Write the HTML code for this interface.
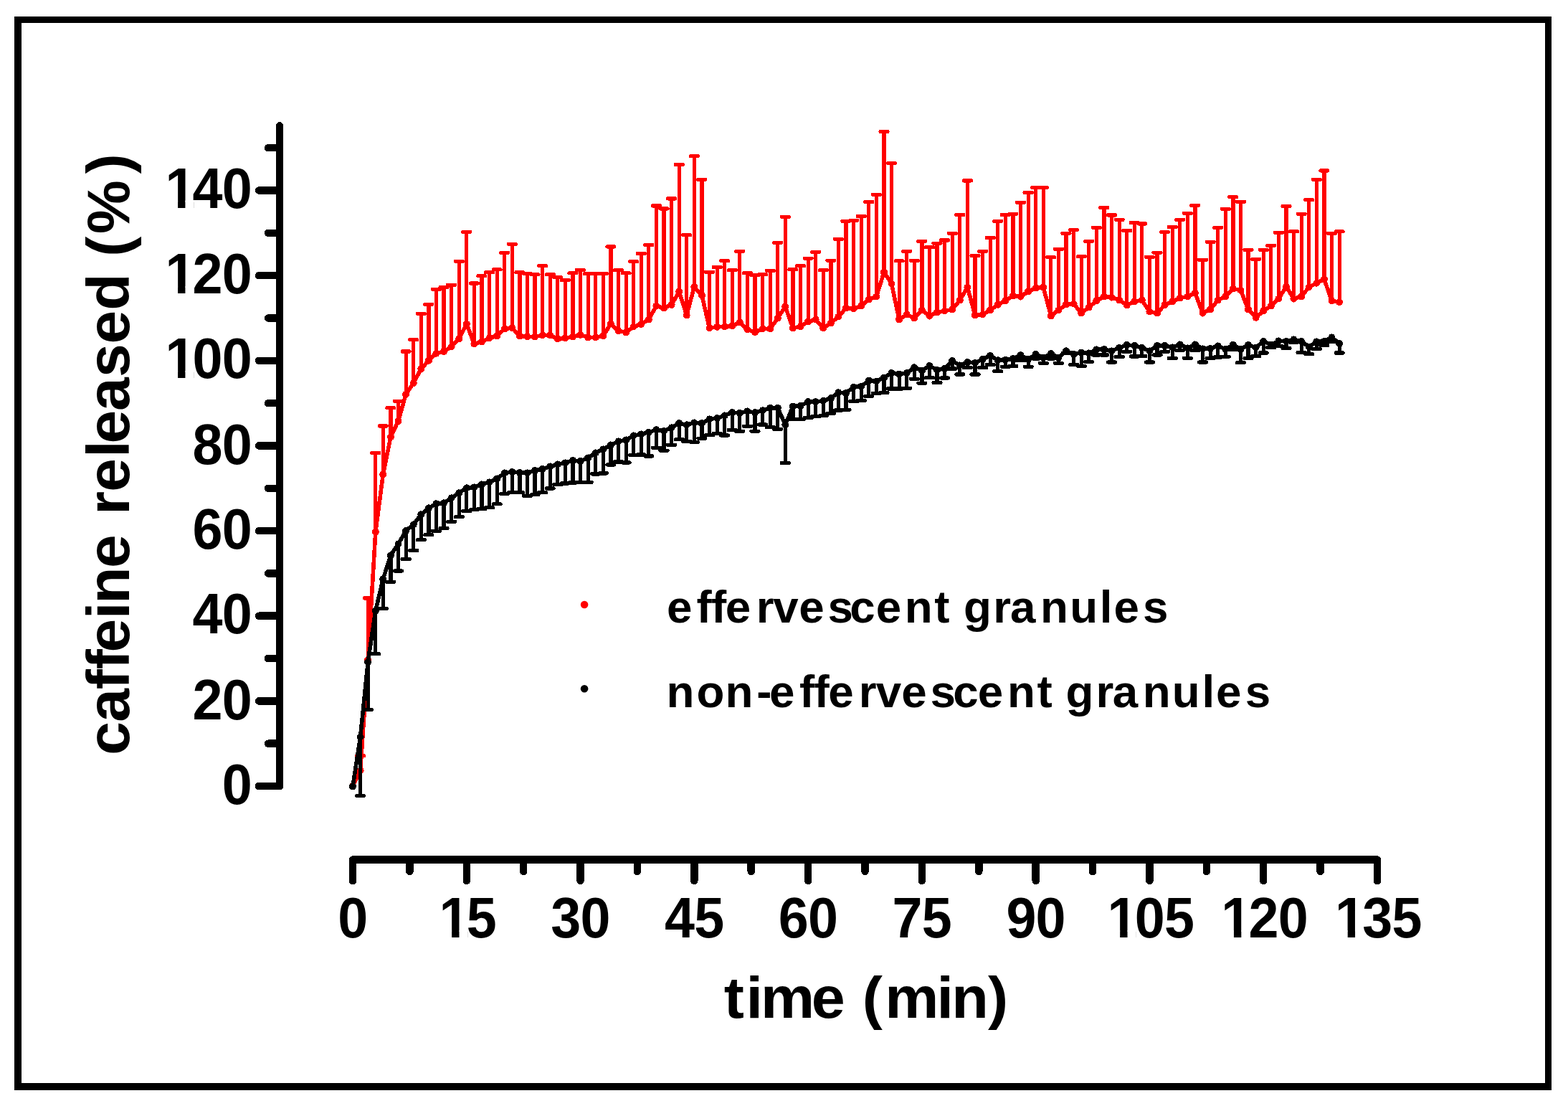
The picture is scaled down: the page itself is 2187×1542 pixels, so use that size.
<!DOCTYPE html>
<html lang="en">
<head>
<meta charset="utf-8">
<title>Caffeine release from effervescent and non-effervescent granules</title>
<style>
html,body{margin:0;padding:0;background:#fff;}
body{width:2187px;height:1542px;overflow:hidden;}
svg{display:block;}
</style>
</head>
<body>
<svg width="2187" height="1542" viewBox="0 0 2187 1542">
<rect width="2187" height="1542" fill="#fff"/>
<path d="M20 23H2164V1520H20ZM30 32V1510H2155V32Z" fill="#000" fill-rule="evenodd" shape-rendering="crispEdges"/>
<path d="M390 175.4V1096M390 1096.0h-29M390 1036.7h-16M390 977.4h-29M390 918.0h-16M390 858.7h-29M390 799.4h-16M390 740.1h-29M390 680.8h-16M390 621.4h-29M390 562.1h-16M390 502.8h-29M390 443.5h-16M390 384.2h-29M390 324.8h-16M390 265.5h-29M390 206.2h-16M492.0 1198.5H1921.0M492.0 1198.5v29.5M571.4 1198.5v16.5M650.8 1198.5v29.5M730.2 1198.5v16.5M809.5 1198.5v29.5M888.9 1198.5v16.5M968.3 1198.5v29.5M1047.7 1198.5v16.5M1127.1 1198.5v29.5M1206.5 1198.5v16.5M1285.9 1198.5v29.5M1365.3 1198.5v16.5M1444.7 1198.5v29.5M1524.0 1198.5v16.5M1603.4 1198.5v29.5M1682.8 1198.5v16.5M1762.2 1198.5v29.5M1841.6 1198.5v16.5M1921.0 1198.5v29.5" fill="none" stroke="#000" stroke-width="10.5" stroke-linecap="round" stroke-linejoin="round" shape-rendering="crispEdges"/>
<g shape-rendering="crispEdges">
<path d="M502.6 1074.4V1053.7M497.6 1053.7h10M513.2 920.0V834.0M508.2 834.0h10M523.8 741.7V631.5M518.8 631.5h10M534.3 661.5V594.0M529.3 594.0h10M544.9 609.2V568.8M539.9 568.8h10M555.5 587.0V559.2M550.5 559.2h10M566.1 549.7V490.0M561.1 490.0h10M576.7 534.2V473.7M571.7 473.7h10M587.3 514.3V437.3M582.3 437.3h10M597.9 502.7V424.3M592.9 424.3h10M608.4 492.7V403.4M603.4 403.4h10M619.0 490.0V400.5M614.0 400.5h10M629.6 483.4V397.2M624.6 397.2h10M640.2 472.5V364.2M635.2 364.2h10M650.8 451.7V323.3M645.8 323.3h10M661.4 479.5V395.0M656.4 395.0h10M671.9 476.4V384.8M666.9 384.8h10M682.5 471.4V379.8M677.5 379.8h10M693.1 468.4V375.8M688.1 375.8h10M703.7 458.5V352.3M698.7 352.3h10M714.3 457.1V340.3M709.3 340.3h10M724.9 468.4V379.8M719.9 379.8h10M735.5 469.4V381.4M730.5 381.4h10M746.0 469.4V382.8M741.0 382.8h10M756.6 467.4V370.8M751.6 370.8h10M767.2 467.4V382.8M762.2 382.8h10M777.8 472.4V386.8M772.8 386.8h10M788.4 471.4V390.8M783.4 390.8h10M799.0 469.4V380.8M794.0 380.8h10M809.5 466.8V376.4M804.5 376.4h10M820.1 470.4V381.8M815.1 381.8h10M830.7 470.4V381.8M825.7 381.8h10M841.3 468.4V381.4M836.3 381.4h10M851.9 451.5V343.9M846.9 343.9h10M862.5 461.4V376.8M857.5 376.8h10M873.1 463.4V380.8M868.1 380.8h10M883.6 455.5V364.8M878.6 364.8h10M894.2 452.1V353.5M889.2 353.5h10M904.8 445.5V341.5M899.8 341.5h10M915.4 426.5V286.9M910.4 286.9h10M926.0 429.5V290.9M921.0 290.9h10M936.6 424.9V276.9M931.6 276.9h10M947.2 406.5V229.4M942.2 229.4h10M957.7 439.5V327.6M952.7 327.6h10M968.3 400.0V217.6M963.3 217.6h10M978.9 411.7V250.3M973.9 250.3h10M989.5 457.4V379.2M984.5 379.2h10M1000.1 455.8V372.4M995.1 372.4h10M1010.7 455.4V363.8M1005.7 363.8h10M1021.2 454.4V376.8M1016.2 376.8h10M1031.8 449.4V350.4M1026.8 350.4h10M1042.4 459.4V380.8M1037.4 380.8h10M1053.0 463.0V383.8M1048.0 383.8h10M1063.6 458.4V382.8M1058.6 382.8h10M1074.2 458.4V377.2M1069.2 377.2h10M1084.8 443.5V338.4M1079.8 338.4h10M1095.3 427.5V302.3M1090.3 302.3h10M1105.9 457.4V375.8M1100.9 375.8h10M1116.5 455.4V370.8M1111.5 370.8h10M1127.1 448.4V360.2M1122.1 360.2h10M1137.7 445.5V351.4M1132.7 351.4h10M1148.3 457.4V376.8M1143.3 376.8h10M1158.9 450.4V363.2M1153.9 363.2h10M1169.4 441.5V333.5M1164.4 333.5h10M1180.0 429.5V308.3M1175.0 308.3h10M1190.6 430.5V307.3M1185.6 307.3h10M1201.2 426.5V301.5M1196.2 301.5h10M1211.8 417.5V281.5M1206.8 281.5h10M1222.4 413.5V271.5M1217.4 271.5h10M1233.0 379.5V183.4M1228.0 183.4h10M1243.5 395.5V227.6M1238.5 227.6h10M1254.1 445.5V363.8M1249.1 363.8h10M1264.7 438.5V350.4M1259.7 350.4h10M1275.3 443.5V363.2M1270.3 363.2h10M1285.9 432.5V336.3M1280.9 336.3h10M1296.5 440.5V344.8M1291.5 344.8h10M1307.0 435.5V339.2M1302.0 339.2h10M1317.6 433.5V334.9M1312.6 334.9h10M1328.2 431.5V325.3M1323.2 325.3h10M1338.8 418.5V299.5M1333.8 299.5h10M1349.4 400.5V251.9M1344.4 251.9h10M1360.0 439.5V356.4M1355.0 356.4h10M1370.6 438.5V350.4M1365.6 350.4h10M1381.1 432.5V331.4M1376.1 331.4h10M1391.7 424.7V308.2M1386.7 308.2h10M1402.3 419.5V299.5M1397.3 299.5h10M1412.9 412.5V298.3M1407.9 298.3h10M1423.5 413.5V282.3M1418.5 282.3h10M1434.1 406.5V268.5M1429.1 268.5h10M1444.7 401.5V261.5M1439.7 261.5h10M1455.2 400.5V261.5M1450.2 261.5h10M1465.8 440.5V358.8M1460.8 358.8h10M1476.4 432.5V347.2M1471.4 347.2h10M1487.0 424.5V325.3M1482.0 325.3h10M1497.6 423.5V320.5M1492.6 320.5h10M1508.2 436.5V357.8M1503.2 357.8h10M1518.7 428.5V336.3M1513.7 336.3h10M1529.3 419.5V317.3M1524.3 317.3h10M1539.9 413.5V289.5M1534.9 289.5h10M1550.5 414.5V299.9M1545.5 299.9h10M1561.1 418.5V306.3M1556.1 306.3h10M1571.7 425.5V321.5M1566.7 321.5h10M1582.3 420.5V310.5M1577.3 310.5h10M1592.8 418.5V311.9M1587.8 311.9h10M1603.4 434.5V358.4M1598.4 358.4h10M1614.0 436.5V352.2M1609.0 352.2h10M1624.6 425.1V323.5M1619.6 323.5h10M1635.2 420.5V316.5M1630.2 316.5h10M1645.8 415.5V306.3M1640.8 306.3h10M1656.4 413.5V297.3M1651.4 297.3h10M1666.9 408.5V286.3M1661.9 286.3h10M1677.5 436.5V362.2M1672.5 362.2h10M1688.1 431.5V337.3M1683.1 337.3h10M1698.7 418.5V317.3M1693.7 317.3h10M1709.3 413.5V291.4M1704.3 291.4h10M1719.9 402.5V274.7M1714.9 274.7h10M1730.4 404.5V281.2M1725.4 281.2h10M1741.0 431.5V348.3M1736.0 348.3h10M1751.6 442.7V361.4M1746.6 361.4h10M1762.2 433.5V348.3M1757.2 348.3h10M1772.8 426.5V342.2M1767.8 342.2h10M1783.4 416.5V324.2M1778.4 324.2h10M1794.0 399.7V287.6M1789.0 287.6h10M1804.5 416.5V322.8M1799.5 322.8h10M1815.1 413.5V298.3M1810.1 298.3h10M1825.7 400.3V278.7M1820.7 278.7h10M1836.3 394.7V250.3M1831.3 250.3h10M1846.9 389.2V237.9M1841.9 237.9h10M1857.5 419.4V325.2M1852.5 325.2h10M1868.1 421.2V322.8M1863.1 322.8h10" fill="none" stroke="#ff0000" stroke-width="5.2" stroke-linecap="round"/>
<polyline points="492.0,1096.0 502.6,1074.4 513.2,920.0 523.8,741.7 534.3,661.5 544.9,609.2 555.5,587.0 566.1,549.7 576.7,534.2 587.3,514.3 597.9,502.7 608.4,492.7 619.0,490.0 629.6,483.4 640.2,472.5 650.8,451.7 661.4,479.5 671.9,476.4 682.5,471.4 693.1,468.4 703.7,458.5 714.3,457.1 724.9,468.4 735.5,469.4 746.0,469.4 756.6,467.4 767.2,467.4 777.8,472.4 788.4,471.4 799.0,469.4 809.5,466.8 820.1,470.4 830.7,470.4 841.3,468.4 851.9,451.5 862.5,461.4 873.1,463.4 883.6,455.5 894.2,452.1 904.8,445.5 915.4,426.5 926.0,429.5 936.6,424.9 947.2,406.5 957.7,439.5 968.3,400.0 978.9,411.7 989.5,457.4 1000.1,455.8 1010.7,455.4 1021.2,454.4 1031.8,449.4 1042.4,459.4 1053.0,463.0 1063.6,458.4 1074.2,458.4 1084.8,443.5 1095.3,427.5 1105.9,457.4 1116.5,455.4 1127.1,448.4 1137.7,445.5 1148.3,457.4 1158.9,450.4 1169.4,441.5 1180.0,429.5 1190.6,430.5 1201.2,426.5 1211.8,417.5 1222.4,413.5 1233.0,379.5 1243.5,395.5 1254.1,445.5 1264.7,438.5 1275.3,443.5 1285.9,432.5 1296.5,440.5 1307.0,435.5 1317.6,433.5 1328.2,431.5 1338.8,418.5 1349.4,400.5 1360.0,439.5 1370.6,438.5 1381.1,432.5 1391.7,424.7 1402.3,419.5 1412.9,412.5 1423.5,413.5 1434.1,406.5 1444.7,401.5 1455.2,400.5 1465.8,440.5 1476.4,432.5 1487.0,424.5 1497.6,423.5 1508.2,436.5 1518.7,428.5 1529.3,419.5 1539.9,413.5 1550.5,414.5 1561.1,418.5 1571.7,425.5 1582.3,420.5 1592.8,418.5 1603.4,434.5 1614.0,436.5 1624.6,425.1 1635.2,420.5 1645.8,415.5 1656.4,413.5 1666.9,408.5 1677.5,436.5 1688.1,431.5 1698.7,418.5 1709.3,413.5 1719.9,402.5 1730.4,404.5 1741.0,431.5 1751.6,442.7 1762.2,433.5 1772.8,426.5 1783.4,416.5 1794.0,399.7 1804.5,416.5 1815.1,413.5 1825.7,400.3 1836.3,394.7 1846.9,389.2 1857.5,419.4 1868.1,421.2" fill="none" stroke="#ff0000" stroke-width="5.6" stroke-linejoin="round" stroke-linecap="round"/>
<path d="M492.0 1096.0h0M502.6 1074.4h0M513.2 920.0h0M523.8 741.7h0M534.3 661.5h0M544.9 609.2h0M555.5 587.0h0M566.1 549.7h0M576.7 534.2h0M587.3 514.3h0M597.9 502.7h0M608.4 492.7h0M619.0 490.0h0M629.6 483.4h0M640.2 472.5h0M650.8 451.7h0M661.4 479.5h0M671.9 476.4h0M682.5 471.4h0M693.1 468.4h0M703.7 458.5h0M714.3 457.1h0M724.9 468.4h0M735.5 469.4h0M746.0 469.4h0M756.6 467.4h0M767.2 467.4h0M777.8 472.4h0M788.4 471.4h0M799.0 469.4h0M809.5 466.8h0M820.1 470.4h0M830.7 470.4h0M841.3 468.4h0M851.9 451.5h0M862.5 461.4h0M873.1 463.4h0M883.6 455.5h0M894.2 452.1h0M904.8 445.5h0M915.4 426.5h0M926.0 429.5h0M936.6 424.9h0M947.2 406.5h0M957.7 439.5h0M968.3 400.0h0M978.9 411.7h0M989.5 457.4h0M1000.1 455.8h0M1010.7 455.4h0M1021.2 454.4h0M1031.8 449.4h0M1042.4 459.4h0M1053.0 463.0h0M1063.6 458.4h0M1074.2 458.4h0M1084.8 443.5h0M1095.3 427.5h0M1105.9 457.4h0M1116.5 455.4h0M1127.1 448.4h0M1137.7 445.5h0M1148.3 457.4h0M1158.9 450.4h0M1169.4 441.5h0M1180.0 429.5h0M1190.6 430.5h0M1201.2 426.5h0M1211.8 417.5h0M1222.4 413.5h0M1233.0 379.5h0M1243.5 395.5h0M1254.1 445.5h0M1264.7 438.5h0M1275.3 443.5h0M1285.9 432.5h0M1296.5 440.5h0M1307.0 435.5h0M1317.6 433.5h0M1328.2 431.5h0M1338.8 418.5h0M1349.4 400.5h0M1360.0 439.5h0M1370.6 438.5h0M1381.1 432.5h0M1391.7 424.7h0M1402.3 419.5h0M1412.9 412.5h0M1423.5 413.5h0M1434.1 406.5h0M1444.7 401.5h0M1455.2 400.5h0M1465.8 440.5h0M1476.4 432.5h0M1487.0 424.5h0M1497.6 423.5h0M1508.2 436.5h0M1518.7 428.5h0M1529.3 419.5h0M1539.9 413.5h0M1550.5 414.5h0M1561.1 418.5h0M1571.7 425.5h0M1582.3 420.5h0M1592.8 418.5h0M1603.4 434.5h0M1614.0 436.5h0M1624.6 425.1h0M1635.2 420.5h0M1645.8 415.5h0M1656.4 413.5h0M1666.9 408.5h0M1677.5 436.5h0M1688.1 431.5h0M1698.7 418.5h0M1709.3 413.5h0M1719.9 402.5h0M1730.4 404.5h0M1741.0 431.5h0M1751.6 442.7h0M1762.2 433.5h0M1772.8 426.5h0M1783.4 416.5h0M1794.0 399.7h0M1804.5 416.5h0M1815.1 413.5h0M1825.7 400.3h0M1836.3 394.7h0M1846.9 389.2h0M1857.5 419.4h0M1868.1 421.2h0" fill="none" stroke="#ff0000" stroke-width="10.0" stroke-linecap="round"/>
<path d="M502.6 1027.5V1109.5M497.6 1109.5h10M513.2 923.0V989.5M508.2 989.5h10M523.8 851.5V911.7M518.8 911.7h10M534.3 807.5V848.6M529.3 848.6h10M544.9 774.3V811.3M539.9 811.3h10M555.5 758.4V796.0M550.5 796.0h10M566.1 740.1V779.5M561.1 779.5h10M576.7 731.4V767.5M571.7 767.5h10M587.3 717.3V752.8M582.3 752.8h10M597.9 708.3V745.8M592.9 745.8h10M608.4 702.3V740.4M603.4 740.4h10M619.0 701.3V736.4M614.0 736.4h10M629.6 694.3V727.4M624.6 727.4h10M640.2 687.3V720.8M635.2 720.8h10M650.8 680.3V712.8M645.8 712.8h10M661.4 679.4V710.8M656.4 710.8h10M671.9 675.4V709.8M666.9 709.8h10M682.5 672.4V707.8M677.5 707.8h10M693.1 667.4V702.8M688.1 702.8h10M703.7 659.4V688.4M698.7 688.4h10M714.3 658.0V686.8M709.3 686.8h10M724.9 659.0V686.8M719.9 686.8h10M735.5 659.4V691.4M730.5 691.4h10M746.0 656.0V689.8M741.0 689.8h10M756.6 654.0V686.8M751.6 686.8h10M767.2 650.4V680.9M762.2 680.9h10M777.8 647.4V675.5M772.8 675.5h10M788.4 645.4V673.9M783.4 673.9h10M799.0 642.0V672.9M794.0 672.9h10M809.5 642.8V672.3M804.5 672.3h10M820.1 638.4V672.3M815.1 672.3h10M830.7 631.4V660.9M825.7 660.9h10M841.3 626.4V659.9M836.3 659.9h10M851.9 620.4V647.9M846.9 647.9h10M862.5 615.4V643.9M857.5 643.9h10M873.1 613.4V644.9M868.1 644.9h10M883.6 607.4V634.3M878.6 634.3h10M894.2 605.4V633.9M889.2 633.9h10M904.8 602.7V636.0M899.8 636.0h10M915.4 599.2V624.2M910.4 624.2h10M926.0 600.8V628.1M921.0 628.1h10M936.6 596.3V620.1M931.6 620.1h10M947.2 590.1V612.7M942.2 612.7h10M957.7 592.3V615.2M952.7 615.2h10M968.3 589.4V616.2M963.3 616.2h10M978.9 590.1V611.2M973.9 611.2h10M989.5 584.4V606.7M984.5 606.7h10M1000.1 583.0V604.1M995.1 604.1h10M1010.7 579.4V607.0M1005.7 607.0h10M1021.2 575.1V599.5M1016.2 599.5h10M1031.8 575.9V601.2M1026.8 601.2h10M1042.4 573.4V594.1M1037.4 594.1h10M1053.0 575.1V601.2M1048.0 601.2h10M1063.6 572.3V592.0M1058.6 592.0h10M1074.2 568.7V595.5M1069.2 595.5h10M1084.8 568.7V598.4M1079.8 598.4h10M1095.3 592.3V645.5M1090.3 645.5h10M1105.9 566.6V584.8M1100.9 584.8h10M1116.5 565.9V584.1M1111.5 584.1h10M1127.1 560.2V582.4M1122.1 582.4h10M1137.7 560.2V580.6M1132.7 580.6h10M1148.3 558.7V579.8M1143.3 579.8h10M1158.9 555.2V576.3M1153.9 576.3h10M1169.4 547.3V572.0M1164.4 572.0h10M1180.0 548.0V571.3M1175.0 571.3h10M1190.6 539.5V559.6M1185.6 559.6h10M1201.2 538.8V558.4M1196.2 558.4h10M1211.8 530.5V552.4M1206.8 552.4h10M1222.4 531.5V548.4M1217.4 548.4h10M1233.0 526.5V547.7M1228.0 547.7h10M1243.5 520.1V541.9M1238.5 541.9h10M1254.1 521.5V541.9M1249.1 541.9h10M1264.7 520.1V541.2M1259.7 541.2h10M1275.3 512.3V528.4M1270.3 528.4h10M1285.9 516.6V534.1M1280.9 534.1h10M1296.5 510.1V526.7M1291.5 526.7h10M1307.0 515.8V533.4M1302.0 533.4h10M1317.6 513.7V527.0M1312.6 527.0h10M1328.2 503.0V514.1M1323.2 514.1h10M1338.8 509.4V522.0M1333.8 522.0h10M1349.4 505.1V512.7M1344.4 512.7h10M1360.0 505.9V522.0M1355.0 522.0h10M1370.6 500.9V512.7M1365.6 512.7h10M1381.1 495.9V508.4M1376.1 508.4h10M1391.7 502.3V517.7M1386.7 517.7h10M1402.3 501.6V511.3M1397.3 511.3h10M1412.9 500.1V510.6M1407.9 510.6h10M1423.5 495.2V502.7M1418.5 502.7h10M1434.1 500.9V511.3M1429.1 511.3h10M1444.7 493.7V499.9M1439.7 499.9h10M1455.2 498.7V506.3M1450.2 506.3h10M1465.8 493.0V499.9M1460.8 499.9h10M1476.4 498.7V506.3M1471.4 506.3h10M1487.0 489.4V492.7M1482.0 492.7h10M1497.6 493.7V508.4M1492.6 508.4h10M1508.2 491.5V510.3M1503.2 510.3h10M1518.7 492.4V504.5M1513.7 504.5h10M1529.3 487.4V494.9M1524.3 494.9h10M1539.9 486.9V494.9M1534.9 494.9h10M1550.5 489.4V505.0M1545.5 505.0h10M1561.1 484.9V497.5M1556.1 497.5h10M1571.7 480.9V490.4M1566.7 490.4h10M1582.3 481.9V497.0M1577.3 497.0h10M1592.8 484.9V496.5M1587.8 496.5h10M1603.4 489.4V505.0M1598.4 505.0h10M1614.0 481.9V494.9M1609.0 494.9h10M1624.6 481.9V490.4M1619.6 490.4h10M1635.2 484.4V499.5M1630.2 499.5h10M1645.8 480.4V488.4M1640.8 488.4h10M1656.4 485.4V499.5M1651.4 499.5h10M1666.9 480.4V488.4M1661.9 488.4h10M1677.5 486.4V505.0M1672.5 505.0h10M1688.1 485.9V499.5M1683.1 499.5h10M1698.7 482.4V498.0M1693.7 498.0h10M1709.3 486.7V497.1M1704.3 497.1h10M1719.9 480.7V487.5M1714.9 487.5h10M1730.4 487.0V505.6M1725.4 505.6h10M1741.0 481.0V499.6M1736.0 499.6h10M1751.6 484.5V496.6M1746.6 496.6h10M1762.2 475.9V492.0M1757.2 492.0h10M1772.8 480.5V484.5M1767.8 484.5h10M1783.4 475.4V482.5M1778.4 482.5h10M1794.0 475.9V485.5M1789.0 485.5h10M1804.5 473.4V477.5M1799.5 477.5h10M1815.1 475.9V491.5M1810.1 491.5h10M1825.7 483.5V493.6M1820.7 493.6h10M1836.3 476.4V486.5M1831.3 486.5h10M1846.9 475.9V481.5M1841.9 481.5h10M1857.5 470.4V476.5M1852.5 476.5h10M1868.1 479.0V492.0M1863.1 492.0h10" fill="none" stroke="#000000" stroke-width="5.2" stroke-linecap="round"/>
<polyline points="492.0,1096.4 502.6,1027.5 513.2,923.0 523.8,851.5 534.3,807.5 544.9,774.3 555.5,758.4 566.1,740.1 576.7,731.4 587.3,717.3 597.9,708.3 608.4,702.3 619.0,701.3 629.6,694.3 640.2,687.3 650.8,680.3 661.4,679.4 671.9,675.4 682.5,672.4 693.1,667.4 703.7,659.4 714.3,658.0 724.9,659.0 735.5,659.4 746.0,656.0 756.6,654.0 767.2,650.4 777.8,647.4 788.4,645.4 799.0,642.0 809.5,642.8 820.1,638.4 830.7,631.4 841.3,626.4 851.9,620.4 862.5,615.4 873.1,613.4 883.6,607.4 894.2,605.4 904.8,602.7 915.4,599.2 926.0,600.8 936.6,596.3 947.2,590.1 957.7,592.3 968.3,589.4 978.9,590.1 989.5,584.4 1000.1,583.0 1010.7,579.4 1021.2,575.1 1031.8,575.9 1042.4,573.4 1053.0,575.1 1063.6,572.3 1074.2,568.7 1084.8,568.7 1095.3,592.3 1105.9,566.6 1116.5,565.9 1127.1,560.2 1137.7,560.2 1148.3,558.7 1158.9,555.2 1169.4,547.3 1180.0,548.0 1190.6,539.5 1201.2,538.8 1211.8,530.5 1222.4,531.5 1233.0,526.5 1243.5,520.1 1254.1,521.5 1264.7,520.1 1275.3,512.3 1285.9,516.6 1296.5,510.1 1307.0,515.8 1317.6,513.7 1328.2,503.0 1338.8,509.4 1349.4,505.1 1360.0,505.9 1370.6,500.9 1381.1,495.9 1391.7,502.3 1402.3,501.6 1412.9,500.1 1423.5,495.2 1434.1,500.9 1444.7,493.7 1455.2,498.7 1465.8,493.0 1476.4,498.7 1487.0,489.4 1497.6,493.7 1508.2,491.5 1518.7,492.4 1529.3,487.4 1539.9,486.9 1550.5,489.4 1561.1,484.9 1571.7,480.9 1582.3,481.9 1592.8,484.9 1603.4,489.4 1614.0,481.9 1624.6,481.9 1635.2,484.4 1645.8,480.4 1656.4,485.4 1666.9,480.4 1677.5,486.4 1688.1,485.9 1698.7,482.4 1709.3,486.7 1719.9,480.7 1730.4,487.0 1741.0,481.0 1751.6,484.5 1762.2,475.9 1772.8,480.5 1783.4,475.4 1794.0,475.9 1804.5,473.4 1815.1,475.9 1825.7,483.5 1836.3,476.4 1846.9,475.9 1857.5,470.4 1868.1,479.0" fill="none" stroke="#000000" stroke-width="5.6" stroke-linejoin="round" stroke-linecap="round"/>
<path d="M492.0 1096.4h0M502.6 1027.5h0M513.2 923.0h0M523.8 851.5h0M534.3 807.5h0M544.9 774.3h0M555.5 758.4h0M566.1 740.1h0M576.7 731.4h0M587.3 717.3h0M597.9 708.3h0M608.4 702.3h0M619.0 701.3h0M629.6 694.3h0M640.2 687.3h0M650.8 680.3h0M661.4 679.4h0M671.9 675.4h0M682.5 672.4h0M693.1 667.4h0M703.7 659.4h0M714.3 658.0h0M724.9 659.0h0M735.5 659.4h0M746.0 656.0h0M756.6 654.0h0M767.2 650.4h0M777.8 647.4h0M788.4 645.4h0M799.0 642.0h0M809.5 642.8h0M820.1 638.4h0M830.7 631.4h0M841.3 626.4h0M851.9 620.4h0M862.5 615.4h0M873.1 613.4h0M883.6 607.4h0M894.2 605.4h0M904.8 602.7h0M915.4 599.2h0M926.0 600.8h0M936.6 596.3h0M947.2 590.1h0M957.7 592.3h0M968.3 589.4h0M978.9 590.1h0M989.5 584.4h0M1000.1 583.0h0M1010.7 579.4h0M1021.2 575.1h0M1031.8 575.9h0M1042.4 573.4h0M1053.0 575.1h0M1063.6 572.3h0M1074.2 568.7h0M1084.8 568.7h0M1095.3 592.3h0M1105.9 566.6h0M1116.5 565.9h0M1127.1 560.2h0M1137.7 560.2h0M1148.3 558.7h0M1158.9 555.2h0M1169.4 547.3h0M1180.0 548.0h0M1190.6 539.5h0M1201.2 538.8h0M1211.8 530.5h0M1222.4 531.5h0M1233.0 526.5h0M1243.5 520.1h0M1254.1 521.5h0M1264.7 520.1h0M1275.3 512.3h0M1285.9 516.6h0M1296.5 510.1h0M1307.0 515.8h0M1317.6 513.7h0M1328.2 503.0h0M1338.8 509.4h0M1349.4 505.1h0M1360.0 505.9h0M1370.6 500.9h0M1381.1 495.9h0M1391.7 502.3h0M1402.3 501.6h0M1412.9 500.1h0M1423.5 495.2h0M1434.1 500.9h0M1444.7 493.7h0M1455.2 498.7h0M1465.8 493.0h0M1476.4 498.7h0M1487.0 489.4h0M1497.6 493.7h0M1508.2 491.5h0M1518.7 492.4h0M1529.3 487.4h0M1539.9 486.9h0M1550.5 489.4h0M1561.1 484.9h0M1571.7 480.9h0M1582.3 481.9h0M1592.8 484.9h0M1603.4 489.4h0M1614.0 481.9h0M1624.6 481.9h0M1635.2 484.4h0M1645.8 480.4h0M1656.4 485.4h0M1666.9 480.4h0M1677.5 486.4h0M1688.1 485.9h0M1698.7 482.4h0M1709.3 486.7h0M1719.9 480.7h0M1730.4 487.0h0M1741.0 481.0h0M1751.6 484.5h0M1762.2 475.9h0M1772.8 480.5h0M1783.4 475.4h0M1794.0 475.9h0M1804.5 473.4h0M1815.1 475.9h0M1825.7 483.5h0M1836.3 476.4h0M1846.9 475.9h0M1857.5 470.4h0M1868.1 479.0h0" fill="none" stroke="#000000" stroke-width="10.0" stroke-linecap="round"/>
</g>
<text transform="translate(0 1121.0) scale(1 1.049)" x="309.8" font-size="75.5" text-anchor="start" font-family="'Liberation Sans', Arial, Helvetica, sans-serif" font-weight="bold">0</text>
<text transform="translate(0 1003.3) scale(1 1.049)" x="268.6 309.8" font-size="75.5" text-anchor="start" font-family="'Liberation Sans', Arial, Helvetica, sans-serif" font-weight="bold">20</text>
<text transform="translate(0 883.2) scale(1 1.049)" x="268.6 309.8" font-size="75.5" text-anchor="start" font-family="'Liberation Sans', Arial, Helvetica, sans-serif" font-weight="bold">40</text>
<text transform="translate(0 765.1) scale(1 1.049)" x="268.6 309.8" font-size="75.5" text-anchor="start" font-family="'Liberation Sans', Arial, Helvetica, sans-serif" font-weight="bold">60</text>
<text transform="translate(0 646.9) scale(1 1.049)" x="268.6 309.8" font-size="75.5" text-anchor="start" font-family="'Liberation Sans', Arial, Helvetica, sans-serif" font-weight="bold">80</text>
<text transform="translate(0 527.0) scale(1 1.049)" x="230.4 268.6 309.8" font-size="75.5" text-anchor="start" font-family="'Liberation Sans', Arial, Helvetica, sans-serif" font-weight="bold">100</text>
<text transform="translate(0 409.2) scale(1 1.049)" x="230.4 268.6 309.8" font-size="75.5" text-anchor="start" font-family="'Liberation Sans', Arial, Helvetica, sans-serif" font-weight="bold">120</text>
<text transform="translate(0 289.5) scale(1 1.049)" x="230.4 268.6 309.8" font-size="75.5" text-anchor="start" font-family="'Liberation Sans', Arial, Helvetica, sans-serif" font-weight="bold">140</text>
<text transform="translate(0 1307.2) scale(1 1.049)" x="471.3" font-size="75.5" text-anchor="start" font-family="'Liberation Sans', Arial, Helvetica, sans-serif" font-weight="bold">0</text>
<text transform="translate(0 1307.2) scale(1 1.049)" x="612.5 650.7" font-size="75.5" text-anchor="start" font-family="'Liberation Sans', Arial, Helvetica, sans-serif" font-weight="bold">15</text>
<text transform="translate(0 1307.2) scale(1 1.049)" x="768.3 809.4" font-size="75.5" text-anchor="start" font-family="'Liberation Sans', Arial, Helvetica, sans-serif" font-weight="bold">30</text>
<text transform="translate(0 1307.2) scale(1 1.049)" x="927.0 968.2" font-size="75.5" text-anchor="start" font-family="'Liberation Sans', Arial, Helvetica, sans-serif" font-weight="bold">45</text>
<text transform="translate(0 1307.2) scale(1 1.049)" x="1085.8 1127.0" font-size="75.5" text-anchor="start" font-family="'Liberation Sans', Arial, Helvetica, sans-serif" font-weight="bold">60</text>
<text transform="translate(0 1307.2) scale(1 1.049)" x="1244.6 1285.8" font-size="75.5" text-anchor="start" font-family="'Liberation Sans', Arial, Helvetica, sans-serif" font-weight="bold">75</text>
<text transform="translate(0 1307.2) scale(1 1.049)" x="1403.4 1444.5" font-size="75.5" text-anchor="start" font-family="'Liberation Sans', Arial, Helvetica, sans-serif" font-weight="bold">90</text>
<text transform="translate(0 1307.2) scale(1 1.049)" x="1544.5 1582.7 1623.9" font-size="75.5" text-anchor="start" font-family="'Liberation Sans', Arial, Helvetica, sans-serif" font-weight="bold">105</text>
<text transform="translate(0 1307.2) scale(1 1.049)" x="1703.3 1741.5 1782.7" font-size="75.5" text-anchor="start" font-family="'Liberation Sans', Arial, Helvetica, sans-serif" font-weight="bold">120</text>
<text transform="translate(0 1307.2) scale(1 1.049)" x="1862.1 1900.3 1941.5" font-size="75.5" text-anchor="start" font-family="'Liberation Sans', Arial, Helvetica, sans-serif" font-weight="bold">135</text>
<g fill="#fff"><rect x="234.23" y="517.12" width="13.82" height="10.88"/><rect x="258.41" y="517.12" width="12.22" height="10.88"/><rect x="234.23" y="399.32" width="13.82" height="10.88"/><rect x="258.41" y="399.32" width="12.22" height="10.88"/><rect x="234.23" y="279.62" width="13.82" height="10.88"/><rect x="258.41" y="279.62" width="12.22" height="10.88"/><rect x="616.29" y="1297.32" width="13.82" height="10.88"/><rect x="640.47" y="1297.32" width="12.22" height="10.88"/><rect x="1548.34" y="1297.32" width="13.82" height="10.88"/><rect x="1572.52" y="1297.32" width="12.22" height="10.88"/><rect x="1707.12" y="1297.32" width="13.82" height="10.88"/><rect x="1731.30" y="1297.32" width="12.22" height="10.88"/><rect x="1865.89" y="1297.32" width="13.82" height="10.88"/><rect x="1890.07" y="1297.32" width="12.22" height="10.88"/></g>
<text transform="translate(0 1418.6) scale(1 0.965)" x="1009.8 1040.4 1060.9 1131.7 1178.7 1202.8 1234.2 1306.5 1327.3 1378.1" font-size="84.5" text-anchor="start" font-family="'Liberation Sans', Arial, Helvetica, sans-serif" font-weight="bold">time (min)</text>
<text transform="translate(180.0 2000) rotate(-90)" x="947.3 993.3 1038.7 1066.7 1090.5 1136.9 1158.2 1208.1 1254.9 1282.3 1314.2 1362.2 1381.4 1427.0 1474.0 1520.4 1567.3 1618.6 1642.3 1673.9 1757.7" font-size="84.0" text-anchor="start" font-family="'Liberation Sans', Arial, Helvetica, sans-serif" font-weight="bold">caffeine released (%)</text>
<circle cx="815.1" cy="843" r="5.3" fill="#ff0000"/>
<circle cx="815.1" cy="960.3" r="5.3" fill="#000"/>
<text transform="translate(0 868.1)" x="929.9 971.6 992.0 1011.8 1054.7 1078.3 1114.2 1154.5 1185.2 1221.8 1261.7 1303.2 1324.5 1344.1 1385.2 1409.0 1451.1 1492.3 1533.8 1553.6 1594.0" font-size="63.7" text-anchor="start" font-family="'Liberation Sans', Arial, Helvetica, sans-serif" font-weight="bold">effervescent granules</text>
<text transform="translate(0 985.9)" x="929.4 971.4 1011.4 1055.2 1072.9 1115.0 1135.5 1155.2 1197.8 1221.7 1257.3 1297.6 1329.3 1363.8 1405.0 1446.6 1467.8 1486.5 1528.6 1551.7 1593.7 1634.7 1676.4 1696.1 1736.8" font-size="63.7" text-anchor="start" font-family="'Liberation Sans', Arial, Helvetica, sans-serif" font-weight="bold">non-effervescent granules</text>
</svg>
</body>
</html>
